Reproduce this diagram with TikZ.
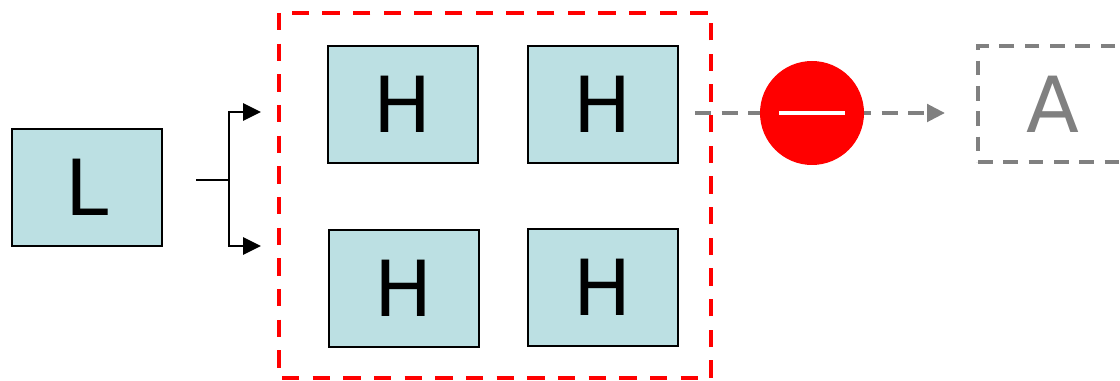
\documentclass[tikz,border=0pt]{standalone}
\usepackage{fontspec}
\setmainfont{DejaVu Sans}
\usetikzlibrary{arrows.meta}
\definecolor{boxfill}{RGB}{188,224,227}
\definecolor{grayline}{RGB}{128,128,128}
\begin{document}
\begin{tikzpicture}[x=0.75pt,y=-0.75pt,
  hbox/.style={draw=black,line width=1.5pt,fill=boxfill,minimum width=112.5pt,minimum height=87.75pt,inner sep=0pt,font=\fontsize{58}{58}\selectfont},
  conn/.style={line width=1.5pt,-{Triangle[length=13.5pt,width=13pt]}},
  grayarrow/.style={draw=grayline,line width=3pt,dash pattern=on 12pt off 8pt,-{Triangle[length=13.5pt,width=13pt]}},
  groupbox/.style={draw=red,line width=3pt,dash pattern=on 13pt off 10pt},
  abox/.style={draw=grayline,line width=2.5pt,dash pattern=on 11pt off 8pt,minimum width=112.5pt,minimum height=87pt,inner sep=0pt,text=grayline,font=\fontsize{58}{58}\selectfont}]
\useasboundingbox (0,0) rectangle (1120,381);
% red group
\draw[groupbox] (279,13) rectangle (711,378);
% L and H boxes
\node[hbox] (L) at (87,187.5) {L};
\node[hbox] (h1) at (403,104.5) {H};
\node[hbox] (h2) at (603,104.5) {H};
\node[hbox] (h3) at (404,288) {H};
\node[hbox] (h4) at (603,287.5) {H};
% bracket
\coordinate (bs) at (196,180);
\coordinate (bj) at (229,180);
\coordinate (bt) at (261,112);
\coordinate (bb) at (261,246);
\draw[line width=1.5pt] (bs) -- (bj);
\draw[conn] (bj) |- (bt);
\draw[conn] (bj) |- (bb);
% gray arrow
\coordinate (gs) at (695,113);
\coordinate (ge) at (945,113);
\draw[grayarrow] (gs) -- (ge);
% red circle
\node[circle,fill=red,minimum size=78pt,inner sep=0pt] (minus) at (812,113) {};
\coordinate (m1) at (779,113);
\coordinate (m2) at (845,113);
\draw[white,line width=3pt] (m1) -- (m2);
% A box
\node[abox] (A) at (1053,104) {A};
\end{tikzpicture}
\end{document}
